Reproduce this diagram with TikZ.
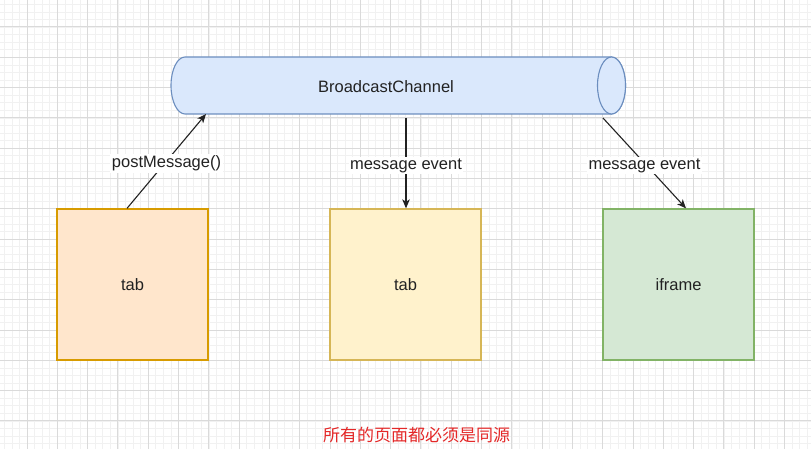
\documentclass[tikz,border=0pt]{standalone}
\usepackage{fontspec}
\setmainfont{Liberation Sans}
\newfontfamily\cjk{Noto Sans CJK SC}
\usetikzlibrary{arrows.meta}
\definecolor{gminor}{HTML}{F1F1F1}
\definecolor{gmajor}{HTML}{DADADA}
\definecolor{cylfill}{HTML}{DAE8FC}
\definecolor{cylline}{HTML}{6C8EBF}
\definecolor{orfill}{HTML}{FFE6CC}
\definecolor{orline}{HTML}{D79B00}
\definecolor{yefill}{HTML}{FFF2CC}
\definecolor{yeline}{HTML}{D6B656}
\definecolor{grfill}{HTML}{D5E8D4}
\definecolor{grline}{HTML}{82B366}
\definecolor{txt}{HTML}{222222}
\definecolor{redtxt}{RGB}{228,40,40}
\begin{document}
\begin{tikzpicture}[x=1pt,y=-1pt,
  minorline/.style={draw=gminor,line width=0.6pt},
  majorline/.style={draw=gmajor,line width=1pt},
  cyl/.style={fill=cylfill,draw=cylline,line width=1.1pt},
  boxnode/.style={minimum width=151pt,minimum height=151pt,line width=1.3pt,inner sep=0pt,
    font=\fontsize{16.5}{20}\selectfont,text=txt},
  lbl/.style={font=\fontsize{16.5}{20}\selectfont,text=txt},
  elbl/.style={font=\fontsize{16.5}{20}\selectfont,text=txt,fill=white,inner sep=1.5pt,yshift=-2.5pt},
  conn/.style={draw=txt,line width=1.1pt,-{Stealth[length=9pt,width=7.5pt,inset=2.5pt]}}
]
\useasboundingbox (0,0) rectangle (811,449);
\fill[white] (0,0) rectangle (811,449);
% grid
\foreach \i in {0,...,107} {\draw[minorline] ({4.275+7.575*\i},0) -- ({4.275+7.575*\i},449);}
\foreach \i in {0,...,59} {\draw[minorline] (0,{4.275+7.575*\i}) -- (811,{4.275+7.575*\i});}
\foreach \i in {0,...,26} {\draw[majorline] ({27+30.3*\i},0) -- ({27+30.3*\i},449);}
\foreach \i in {0,...,14} {\draw[majorline] (0,{27+30.3*\i}) -- (811,{27+30.3*\i});}
% cylinder
\path[cyl] (185,57) -- (611.5,57) arc[start angle=90,end angle=-90,x radius=14pt,y radius=28.5pt]
  -- (185,114) arc[start angle=270,end angle=90,x radius=14pt,y radius=28.5pt] -- cycle;
\path[cyl] (611.5,85.5) ellipse[x radius=14pt,y radius=28.5pt];
\node[lbl] (bc) at (386,86.5) {BroadcastChannel};
\coordinate (c1) at (206,114);
\coordinate (c2) at (406,118);
\coordinate (c3) at (603,118);
% boxes
\node[boxnode,fill=orfill,draw=orline] (tab1) at (132.5,284.5) {tab};
\node[boxnode,fill=yefill,draw=yeline] (tab2) at (405.5,284.5) {tab};
\node[boxnode,fill=grfill,draw=grline] (ifr) at (678.5,284.5) {iframe};
% connectors
\draw[conn] ([xshift=-5.5pt]tab1.north) -- node[elbl] {postMessage()} (c1);
\draw[conn] (c2) -- node[elbl] {message event} ([xshift=0.5pt]tab2.north);
\draw[conn] (c3) -- node[elbl] {message event} ([xshift=7.5pt]ifr.north);
% note
\node[font=\cjk\fontsize{17}{20}\selectfont,text=redtxt] (note) at (416.5,435) {所有的页面都必须是同源};
\end{tikzpicture}
\end{document}
